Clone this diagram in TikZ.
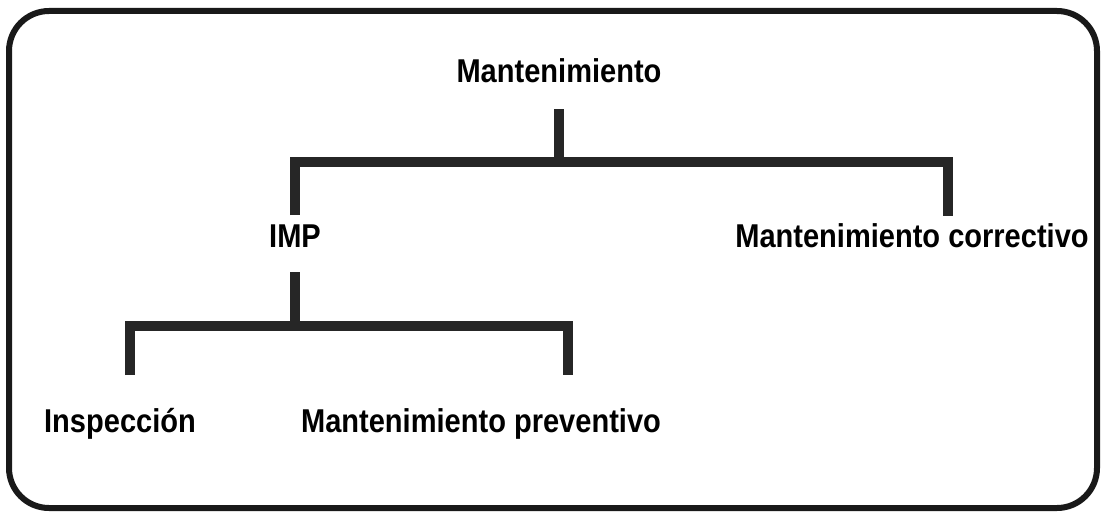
\documentclass[tikz,border=0pt]{standalone}
\usepackage{fontspec}
\setmainfont{Liberation Sans}[FakeStretch=0.88]
\usetikzlibrary{positioning,calc}

\begin{document}
\begin{tikzpicture}[x=1pt,y=-1pt]
  \tikzset{
    term/.style={font=\bfseries\fontsize{33}{33}\selectfont,inner sep=0pt,anchor=base},
    branch/.style={line width=10pt,draw=black!85},
    frame/.style={line width=6pt,draw=black!90,rounded corners=40pt}
  }
  \useasboundingbox (0,0) rectangle (1103,519);
  \draw[frame] (9,11) rectangle (1097,508);

  \node[term] (mant) at (559,82) {Mantenimiento};
  \node[term] (imp) at (295,247) {IMP};
  \node[term] (corr) at (912,247) {Mantenimiento correctivo};
  \node[term] (insp) at (120,432) {Inspección};
  \node[term] (prev) at (481,432) {Mantenimiento preventivo};

  % puntos de union
  \coordinate (j1) at (559,162);
  \coordinate (j2) at (295,326);
  \coordinate (dl) at (295,215);
  \coordinate (dr) at (948,216);
  \coordinate (ll) at (130,375);
  \coordinate (lr) at (568,375);

  \draw[branch] ([yshift=-27pt]mant.base) -- (j1);
  \draw[branch] (dl) |- (j1) -| (dr);
  \draw[branch] ([yshift=-25pt]imp.base) -- (j2);
  \draw[branch] (ll) |- (j2) -| (lr);
\end{tikzpicture}
\end{document}
